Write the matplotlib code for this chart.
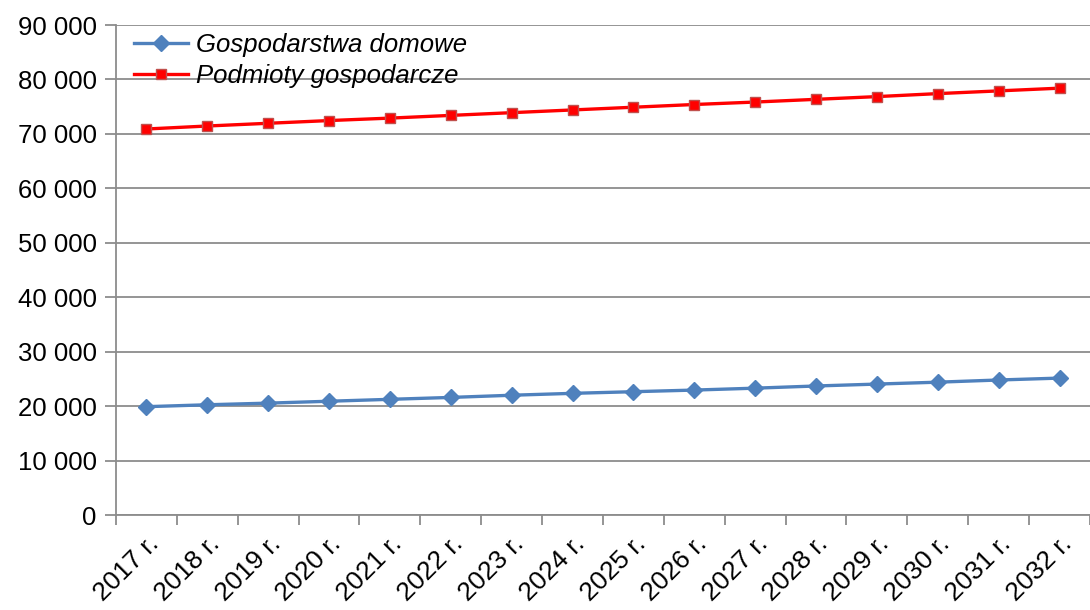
import matplotlib.pyplot as plt
from matplotlib.ticker import FuncFormatter

years = [f"{y} r." for y in range(2017, 2033)]
gospodarstwa = [19900, 20250, 20550, 20900, 21250, 21600, 22000, 22350,
                22650, 22950, 23300, 23700, 24050, 24400, 24800, 25150]
podmioty = [70900, 71450, 71950, 72450, 72900, 73400, 73900, 74400,
            74900, 75400, 75850, 76350, 76850, 77400, 77900, 78400]

plt.rcParams['font.family'] = ['Liberation Sans', 'DejaVu Sans']

fig = plt.figure(figsize=(10.9, 6.1), dpi=100)
ax = fig.add_axes([0.1064, 0.1557, 0.8936, 0.8033])

x = range(len(years))
ax.plot(x, gospodarstwa, color='#4F81BD', linewidth=2.4, marker='D',
        markersize=8, markerfacecolor='#4F81BD', markeredgecolor='#4F81BD',
        label='Gospodarstwa domowe', zorder=3)
ax.plot(x, podmioty, color='#FF0000', linewidth=2.4, marker='s',
        markersize=7.5, markerfacecolor='#FF0000', markeredgecolor='#C0504D',
        markeredgewidth=1.0, label='Podmioty gospodarcze', zorder=3)

ax.set_ylim(0, 90000)
ax.set_xlim(-0.5, 15.31)
ax.set_yticks(range(0, 90001, 10000))
ax.yaxis.set_major_formatter(FuncFormatter(lambda v, p: f"{int(v):,}".replace(',', ' ')))
ax.grid(axis='y', color='#8C8C8C', linewidth=1.3)
ax.set_axisbelow(True)

ax.set_xticks(list(x))
ax.set_xticklabels(years, rotation=45, ha='right', rotation_mode='anchor')
ax.set_xticks([i - 0.5 for i in range(len(years) + 1)], minor=True)
ax.tick_params(axis='x', which='major', length=0, pad=12, labelsize=19)
ax.tick_params(axis='x', which='minor', length=7, width=1.3, color='#8C8C8C')
ax.tick_params(axis='y', length=8, width=1.3, color='#8C8C8C', labelsize=18.5, pad=6)

for side in ['top', 'right']:
    ax.spines[side].set_visible(False)
for side in ['left', 'bottom']:
    ax.spines[side].set_color('#8C8C8C')
    ax.spines[side].set_linewidth(1.3)

leg = ax.legend(loc='upper left', bbox_to_anchor=(0.0, 1.02), frameon=False,
                prop={'style': 'italic', 'size': 18.5}, handlelength=2.1,
                handletextpad=0.3, labelspacing=0.25, borderaxespad=0.3)

fig.savefig('out.png', dpi=100)
